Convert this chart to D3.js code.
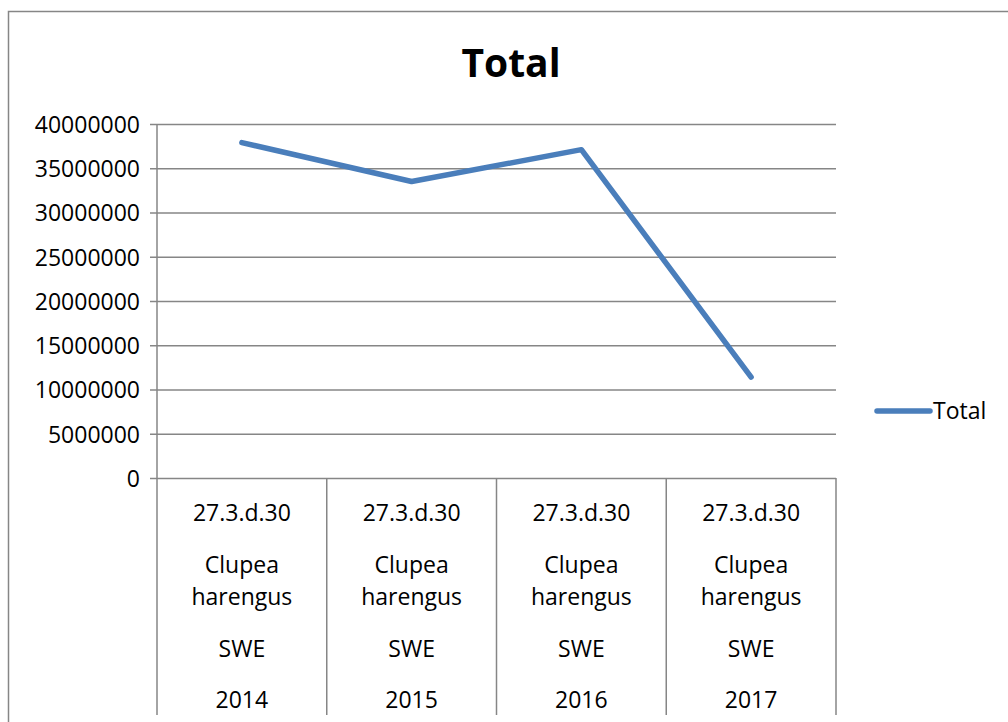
<!DOCTYPE html>
<html>
<head>
<meta charset="utf-8">
<script src="https://cdn.jsdelivr.net/npm/d3@7"></script>
<style>
  body { margin: 0; background: #fff; }
  svg { font-family: 'Open Sans', sans-serif; }
  .axis path { display: none; }
  .axis line { stroke: #868686; stroke-width: 1.5px; }
  .axis text { fill: #000; font-size: 23px; font-family: 'Open Sans', sans-serif; }
</style>
</head>
<body>
<div id="chart"></div>
<script>
'use strict';

// chart data
var areas = ['27.3.d.30', '27.3.d.30', '27.3.d.30', '27.3.d.30'];
var species = ['Clupea harengus', 'Clupea harengus', 'Clupea harengus', 'Clupea harengus'];
var countries = ['SWE', 'SWE', 'SWE', 'SWE'];
var years = ['2014', '2015', '2016', '2017'];
var totals = [37900000, 33500000, 37100000, 11400000];
var yTicks = [0, 5000000, 10000000, 15000000, 20000000, 25000000, 30000000, 35000000, 40000000];
var seriesName = 'Total';

var svg = d3.select('#chart').append('svg')
	.attr('width', 1008)
	.attr('height', 722);

// outer chart frame
svg.append('rect')
	.attr('x', 8.5)
	.attr('y', 11.5)
	.attr('width', 1010)
	.attr('height', 720)
	.attr('fill', 'none')
	.attr('stroke', '#868686')
	.attr('stroke-width', 1.5);

svg.append('text')
	.attr('x', 511)
	.attr('y', 77)
	.attr('text-anchor', 'middle')
	.style('font-size', '39px')
	.style('font-weight', 'bold')
	.text('Total');

var margin = {left: 157, top: 124, right: 836, bottom: 478};
var width = margin.right - margin.left;
var height = margin.bottom - margin.top;

var g = svg.append('g').attr('transform', 'translate(' + margin.left + ',' + margin.top + ')');

var xscale = d3.scaleBand()
	.domain(years)
	.range([0, width])
	.padding(0);

var yscale = d3.scaleLinear()
	.domain([0, 40000000])
	.range([height, 0]);

// gridlines + tick labels
var yaxis = g.append('g')
	.attr('class', 'axis axis--y')
	.call(d3.axisLeft(yscale)
		.tickValues(yTicks)
		.tickFormat(d3.format('d'))
		.tickSizeInner(-width - 7)
		.tickSizeOuter(0)
		.tickPadding(17));
yaxis.attr('font-family', null).attr('font-size', null);
yaxis.selectAll('.tick line').attr('x1', width).attr('x2', -7);
yaxis.selectAll('.tick text').attr('dy', '0.36em');

// y axis line
g.append('line')
	.attr('x1', 0).attr('x2', 0)
	.attr('y1', 0).attr('y2', height)
	.attr('stroke', '#868686')
	.attr('stroke-width', 1.5);

// category separators under the axis
var seps = xscale.domain().map(function(d) { return xscale(d); });
seps.push(width);
g.selectAll('.sep')
	.data(seps)
.enter().append('line')
	.attr('class', 'sep')
	.attr('x1', function(d) { return d; })
	.attr('x2', function(d) { return d; })
	.attr('y1', height)
	.attr('y2', 715 - margin.top)
	.attr('stroke', '#868686')
	.attr('stroke-width', 1.5);

// multi-level category labels
var rows = [
	{ key: function(i) { return [areas[i]]; }, y: 513 },
	{ key: function(i) { return species[i].split(' '); }, y: 565 },
	{ key: function(i) { return [countries[i]]; }, y: 649 },
	{ key: function(i) { return [years[i]]; }, y: 700 }
];

years.forEach(function(yr, i) {
	var cx = xscale(yr) + xscale.bandwidth() / 2;
	rows.forEach(function(r) {
		r.key(i).forEach(function(line, k) {
			g.append('text')
				.attr('x', cx)
				.attr('y', r.y - margin.top + k * 32)
				.attr('dy', '0.36em')
				.attr('text-anchor', 'middle')
				.style('font-size', '23px')
				.text(line);
		});
	});
});

var line = d3.line()
	.x(function(d, i) { return xscale(years[i]) + xscale.bandwidth() / 2; })
	.y(function(d) { return yscale(d); });

g.append('path')
	.datum(totals)
	.attr('d', line)
	.attr('fill', 'none')
	.attr('stroke', '#4a7ebb')
	.attr('stroke-width', 5.5)
	.attr('stroke-linecap', 'round')
	.attr('stroke-linejoin', 'round');

// legend
var legend = svg.append('g').attr('class', 'legend');
legend.append('line')
	.attr('x1', 877).attr('x2', 930)
	.attr('y1', 411).attr('y2', 411)
	.attr('stroke', '#4a7ebb')
	.attr('stroke-width', 5.5)
	.attr('stroke-linecap', 'round');
legend.append('text')
	.attr('x', 933)
	.attr('y', 411)
	.attr('dy', '0.36em')
	.style('font-size', '23px')
	.text(seriesName);
</script>
</body>
</html>
